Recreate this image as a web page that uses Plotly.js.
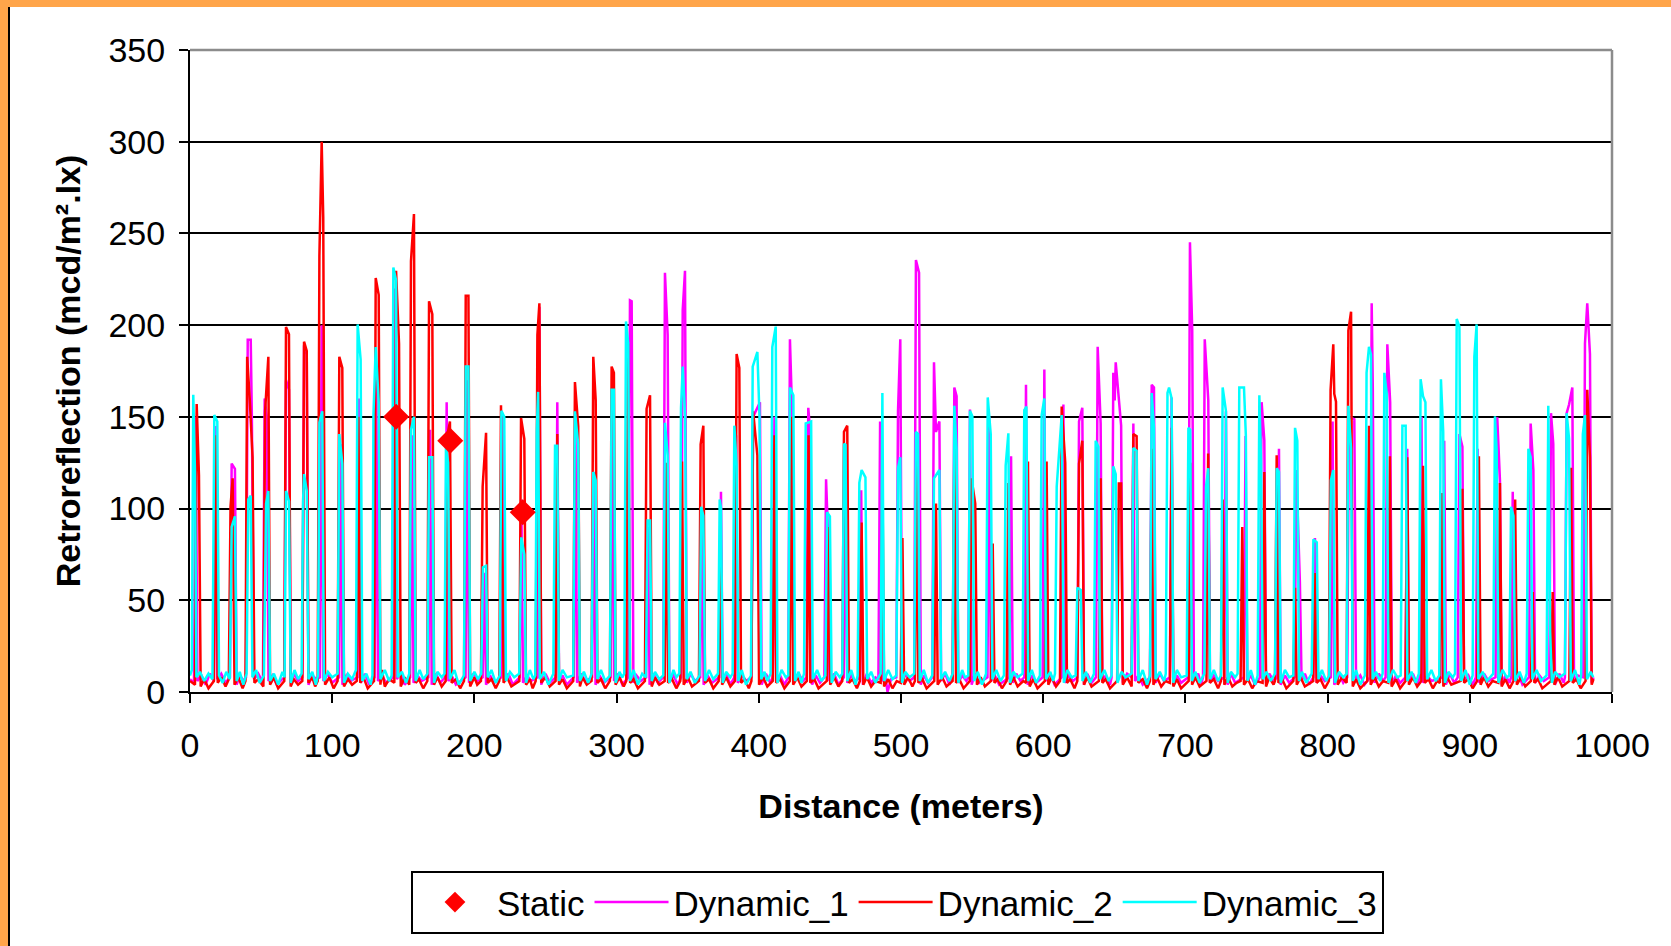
<!DOCTYPE html>
<html><head><meta charset="utf-8">
<script src="https://cdn.plot.ly/plotly-3.0.1.min.js"></script>
<style>
html,body{margin:0;padding:0;background:#fff;}
#wrap{position:relative;width:1671px;height:946px;overflow:hidden;background:#fff;}
#chart{position:absolute;left:0;top:0;width:1671px;height:946px;}
.fr{position:absolute;z-index:10;}
#ftop{left:0;top:0;width:1671px;height:7px;background:#FFA54A;}
#fleft{left:0;top:0;width:8px;height:946px;background:#FFA54A;}
#fline{left:8px;top:7px;width:2px;height:939px;background:#000;}
</style></head>
<body><div id="wrap"><div id="chart"></div><div class="fr" id="ftop"></div><div class="fr" id="fleft"></div><div class="fr" id="fline"></div></div>
<script>
const staticX = [145, 183, 234];
const staticY = [150, 137, 98];

const dyn1Points = [
[0,7],[2.8,5],[4,150],[5.2,6],[8,9],[11,4],[14,10],[16.8,6],
[18,145],[19.2,7],[22,10],[25,5],[28.1,8],
[29.3,124.5],[31.6,121.6],[32.8,4],[35,9],[38,6],[39.4,8],
[40.6,192],[42.7,192],[43.5,150],[45,7],[48,10],[51.3,5],
[52.5,160],[54,150],[55.2,6],[58,9],[61,4],[66.3,8],
[67.5,170],[69.6,165],[70.8,5],[73,10],[76,6],[79,8],
[80.2,189],[82.1,184],[83.3,4],[86,9],[89,7],[91.4,8],
[92.6,200],[93.8,6],[97,10],[100,5],[104.8,8],
[106,135],[107.2,4],[110,9],[113,6],[117.8,8],
[119,160],[120.2,5],[123,10],[126,4],[129.8,8],
[131,170],[132.2,6],[135,9],[138,5],[142.8,8],
[144,220],[145.5,7],[148,10],[151,4],[154.8,8],
[156,140],[157.2,5],[160,9],[163,6],[167.6,8],
[168.8,143],[170,4],[173,10],[176,5],[179.3,8],
[180.5,158],[181.7,6],[184,9],[187,4],[193.8,8],
[195,170],[196.2,5],[199,10],[202,6],[205.8,8],
[207,65],[208.2,4],[211,9],[214,5],[218.8,8],
[220,150],[221.2,6],[224,10],[227,4],[231.8,8],
[233,105],[234.2,5],[237,9],[240,6],[244.5,8],
[245.7,210],[247,4],[250,10],[253,5],[257.1,8],
[258.3,158],[259.5,6],[262,9],[265,4],[269.8,8],
[271,150],[272.2,5],[275,10],[278,6],[282.8,8],
[284,120],[285.2,4],[288,9],[291,5],[295.8,8],
[297,165],[298.2,6],[301,10],[304,4],[308.2,8],
[309.4,213.5],[310.6,213],[311.8,5],[314,9],[317,6],[320.8,8],
[322,90],[323.2,4],[326,10],[329,5],[332.8,8],
[334,228.6],[335.9,194.6],[337.1,6],[340,9],[343,4],[345.3,8],
[346.5,208.4],[348.1,229.6],[349.3,5],[352,10],[355,6],[358.8,8],
[360,100],[361.2,4],[364,9],[367,5],[372.2,8],
[373.4,109.2],[374.6,6],[377,10],[380,4],[382.8,8],
[384,140],[385.2,5],[388,9],[391,6],[394.8,8],
[396,150],[400.8,158],[402,4],[405,10],[408,5],[409.8,8],
[411,150],[412.2,6],[415,9],[418,4],[420.7,8],
[421.9,192.3],[423.5,150],[424.7,5],[428,10],[431,6],[433.6,8],
[434.8,154.9],[436.3,140],[437.5,4],[440,9],[443,5],[446.1,8],
[447.3,116],[448.5,90],[449.7,6],[453,10],[456,4],[459.8,8],
[461,130],[462.2,5],[465,9],[468,6],[470.8,8],
[472,110],[473.2,4],[476,10],[479,5],[482,8],[484.1,7],
[485.3,147.5],[486.5,6],[489,9],[490.5,0],[493,7],[496.7,8],
[497.9,153.3],[499.5,192.3],[500.7,5],[503,10],[506,6],[509.3,8],
[510.5,235.5],[512.7,228.6],[513.9,4],[516,9],[519,5],[522,8],
[523.2,179.7],[524.6,141.8],[527,147.5],[528.2,6],[531,10],[534,4],[536.3,8],
[537.5,166],[539.1,161.3],[540.3,5],[543,9],[546,6],[547.3,8],
[548.5,154],[549.7,4],[552,10],[555,5],[560.8,8],
[562,150],[563.2,6],[566,9],[569,4],[576.2,8],
[577.4,128.5],[578.6,5],[581,10],[584,6],[586.7,8],
[587.9,167.5],[589.1,4],[592,9],[595,5],[599.6,8],
[600.8,175.8],[602,6],[605,10],[608,4],[613,8],
[614.2,156.7],[615.4,5],[618,9],[621,6],[624,8],
[625.2,147.5],[627.5,154.9],[628.7,4],[631,10],[634,5],[637.1,8],
[638.3,188.2],[640.4,146.4],[641.6,6],[644,9],[647,4],[648.1,8],
[649.3,174],[650.3,159],[651,179.7],[654.8,145.2],[656,5],[659,10],[662.2,8],
[663.4,146.4],[664.6,6],[667,9],[670,4],[675.1,8],
[676.3,167.5],[677.9,166],[679.1,5],[682,10],[685,6],[689.1,8],
[690.3,160.6],[691.5,4],[694,9],[697,5],[702,8],
[703.2,245.2],[704.8,197],[706,6],[709,10],[711,4],[712.4,8],
[713.6,192.3],[716.1,159],[717.3,5],[720,9],[723,6],[727.3,8],
[728.5,153],[729.7,4],[732,10],[735,5],[741.1,8],
[742.3,139.5],[743.5,6],[746,9],[749,4],[752.4,8],
[753.6,158],[755.5,137.2],[756.7,5],[759,10],[762,6],[764.6,8],
[765.8,132.6],[767,4],[770,9],[773,5],[776.8,8],
[778,121],[780.5,60],[781.7,6],[784,10],[787,4],[789.9,8],
[791.1,83.9],[792.3,5],[795,9],[798,6],[802.3,8],
[803.5,147.5],[804.7,4],[808,10],[811,5],[813.8,8],
[815,150],[818.8,148.7],[820,6],[823,9],[826,4],[829.8,8],
[831,211.9],[831.8,165],[833,5],[836,10],[839,6],[840.8,8],
[842,189.6],[844,158],[845.2,4],[848,9],[851,5],[854.8,8],
[856,132.6],[857.2,6],[860,10],[863,4],[864.8,8],
[866,150],[867.2,5],[870,9],[873,6],[880.8,8],
[882,137],[883.2,4],[886,10],[889,5],[891.5,8],
[892.7,140.6],[894.8,133.7],[896,6],[899,9],[902,4],[904.3,8],
[905.5,132.6],[906.7,5],[910,10],[913,6],[918.1,8],
[919.3,149.8],[921.2,115.4],[922.4,4],[925,9],[928,5],[929,8],
[930.2,109.2],[931.4,6],[934,10],[937,4],[941.6,8],
[942.8,146.4],[944.7,121],[945.9,5],[949,9],[952,6],[955.9,8],
[957.1,152],[958.7,135.3],[959.9,4],[963,10],[966,5],[966.9,8],
[968.1,152],[969.8,156.7],[972.1,166],[973.3,6],[976,9],[979.8,8],
[981,190],[982.6,211.9],[984.5,184.3],[985.7,5],[987,8]
];

const dyn2Points = [
[0,6],[3.5,4],[4.7,157],[5.5,131],[6.3,118],[7.5,3],[10,7],[13,2],[16.8,6],
[18,140],[19.5,5],[22,8],[25,3],[27.3,7],
[28.5,101],[30,116.5],[31.3,4],[34,8],[37,2],[39,6],
[40.2,182.7],[42,160],[44,128],[45.3,5],[48,7],[51.6,3],
[52.8,153],[55.1,182.7],[56.3,4],[59,8],[62,2],[66.3,6],
[67.5,199],[69.6,195],[70.8,3],[73,7],[76,4],[79,6],
[80.2,191],[82.1,186],[83.3,5],[86,8],[88,3],[89.8,6],
[91,238],[92.6,300],[93.7,259],[95,4],[98,8],[101,2],[103.8,6],
[105,182.7],[107.1,176.7],[108.3,3],[111,7],[114,4],[117.3,6],
[118.5,150],[119.7,5],[122,8],[125,2],[129.4,6],
[130.6,225.7],[132.7,216.5],[133.9,4],[135,12],[137,3],[140,7],[143.7,5],
[144.9,229.6],[147,190],[148.2,3],[151,8],[154.2,4],
[155.4,234.9],[157.5,260.6],[158.7,5],[161,7],[164,2],[166.9,6],
[168.1,213],[170.4,206],[171.6,4],[174,8],[177,3],[179.8,6],
[181,140],[182.8,147.5],[184,5],[187,7],[190,2],[192.7,6],
[193.9,216],[195.8,216],[197,3],[200,8],[202,4],[204.6,6],
[205.8,112],[208.2,141.3],[209.4,5],[212,7],[215,2],[217.5,6],
[218.7,156.3],[220.5,5],[223,8],[226,3],[231.6,6],
[232.8,149.4],[235.1,138],[236.3,4],[239,7],[241,2],[243.1,6],
[244.3,194.6],[245.7,211.9],[247,5],[250,8],[253,3],[257.1,6],
[258.3,140.6],[259.5,4],[262,7],[265,2],[269.5,6],
[270.7,169],[273,145],[274.2,3],[276,8],[279,4],[282.4,6],
[283.6,182.7],[285.3,159],[286.5,5],[289,7],[292,2],[295.3,6],
[296.5,177.4],[298.1,174],[299.3,4],[302,8],[305,3],[306.8,6],
[308,190],[309.5,5],[312,7],[315,2],[319.9,6],
[321.1,154.4],[323.5,161.8],[324.7,3],[327,8],[330,4],[333.8,6],
[335,125],[336.2,5],[339,7],[342,2],[344.8,6],
[346,125.7],[347.2,4],[350,8],[353,3],[357.9,6],
[359.1,135],[361,145.2],[362.2,5],[365,7],[368,2],[371.8,6],
[373,100],[374.2,4],[377,8],[380,3],[383.2,6],
[384.4,184.3],[386.3,176.7],[387.5,5],[390,7],[393,2],[394.8,6],
[396,153],[399,129],[400.2,4],[403,8],[406,3],[409.8,6],
[411,140],[412.2,5],[415,7],[418,2],[421.8,6],
[423,150],[424.2,4],[427,8],[430,3],[433.8,6],
[435,140],[436.2,5],[439,7],[442,2],[447.8,6],
[449,90],[450.2,4],[453,8],[456,3],[458.7,6],
[459.9,141.8],[462.2,145.2],[463.4,5],[466,7],[469,2],[471.1,6],
[472.3,92.4],[473.5,4],[476,8],[479,3],[482,6],[485.7,5],
[486.9,118.8],[488.1,3],[491,7],[494,2],[497,6],[499.8,5],
[501,84],[502.2,4],[505,8],[508,3],[509.8,6],
[511,130],[512.2,5],[515,7],[518,2],[523.4,6],
[524.6,102.7],[525.8,4],[529,8],[532,3],[536.3,6],
[537.5,132.6],[538.7,5],[541,7],[544,2],[548.4,6],
[549.6,116.5],[552.2,102.7],[553.4,4],[556,8],[559,3],[563.3,6],
[564.5,81],[565.7,5],[568,7],[571,2],[574.3,6],
[575.5,114],[576.7,4],[579,8],[582,3],[586,6],[588.1,5],
[589.3,125.7],[590.5,3],[593,7],[596,2],[601.2,6],
[602.4,125.7],[603.6,4],[606,8],[609,3],[611.8,6],
[613,155.6],[615.5,125],[616.7,5],[619,7],[622,2],[624,6],
[625.2,124.5],[627.5,137],[628.7,4],[631,8],[634,3],[639.2,6],
[640.4,116.5],[641.6,5],[644,7],[647,2],[652,6],
[653.2,113.7],[654.8,113.7],[656,4],[659,8],[662.2,3],
[663.4,140.6],[665.7,139.5],[666.9,5],[670,7],[673,2],[675.1,6],
[676.3,132.6],[677.5,4],[680,8],[683,3],[686,6],[689.1,5],
[690.3,144],[691.5,3],[694,7],[697,2],[702.3,6],
[703.5,125],[704.7,4],[707,8],[710,3],[714.8,6],
[716,130],[717.2,5],[720,7],[723,2],[725,6],
[726.2,105],[727.4,4],[730,8],[733,3],[736,5],[738.8,6],
[740,90],[741.2,4],[744,7],[747,2],[750,6],[754.3,5],
[755.5,120],[756.7,3],[759,8],[762,4],[763,6],
[764.2,129],[765.4,5],[768,7],[771,2],[775.9,6],
[777.1,56.8],[778.3,4],[781,8],[784,3],[789.9,6],
[791.1,64.8],[792.3,5],[795,7],[798,2],[800.9,6],
[802.1,164.8],[804,189.6],[804.7,162.5],[805.9,158.3],[807.1,4],[810,8],[813.4,5],
[814.6,197],[816.5,207.3],[817.7,3],[820,7],[823,2],[827.9,6],
[829.1,145.2],[830.3,4],[833,8],[836,3],[839,6],[842.6,5],
[843.8,128.5],[845,3],[848,7],[851,2],[854.8,6],
[856,128],[857.2,4],[860,8],[863,3],[865.9,6],
[867.1,123.4],[868.3,5],[871,7],[874,2],[877,6],[879,5],
[880.2,108.5],[881.4,3],[884,8],[887,4],[893.6,6],
[894.8,110.8],[896,5],[899,7],[902,2],[905.2,6],
[906.4,128.5],[907.6,4],[910,8],[913,3],[916,6],[920,5],
[921.2,114],[922.4,3],[925,7],[928,2],[930.7,6],
[931.9,105],[933.1,4],[936,8],[939,3],[943,6],
[944.2,54.5],[945.4,5],[948,7],[951,2],[957.1,6],
[958.3,54.5],[959.5,4],[962,8],[965,3],[970,6],
[971.2,122.3],[972.4,5],[975,7],[978,2],[981.4,6],
[982.6,164.8],[984.5,128],[985.7,4],[987,7]
];

const dyn3Points = [
[0,9],[1.3,12],[2.3,162],[3.5,120],[4.5,8],[7,11],[10,6],[13,10],[15.8,7],
[17.1,151],[19.2,147.5],[20.4,9],[23,5],[25.5,11],[28,7],
[29.3,90],[31.6,95.8],[32.8,6],[35,11],[37.5,4],[39.8,10],
[41,105],[42.7,107],[43.9,8],[46.5,12],[49,5],[52,9],
[53.5,102.7],[55.1,109.6],[56.3,6],[59,10],[62,4],[65,11],[66.5,8],
[67.5,109.6],[69.6,104],[70.8,5],[73.5,12],[76,7],[78.5,10],
[79.5,104],[80.2,118.8],[82.1,109.6],[83.3,7],[86,11],[88.5,4],[90,9],
[91,147],[93,153],[94.2,6],[97,11],[100,8],[103.8,10],
[105,140.6],[107.1,124.5],[108.3,5],[111,10],[114,7],[116.7,12],
[117.9,200.4],[120,181.3],[121.2,6],[124,10],[127,4],[128.3,9],
[129,151],[130.6,188],[132.7,158],[133.9,7],[137,12],[140,6],[141.8,9],
[143,231.4],[144.9,224.5],[146.1,8],[149,11],[152,5],[154.2,10],
[155.4,143],[157.5,150],[158.7,6],[161.5,12],[164,7],[167,10],
[168.1,128],[170.4,128],[171.6,5],[174,11],[177,8],[179,10],
[180,133.7],[181.5,125],[182.7,7],[186,12],[189,4],[192.7,9],
[193.9,177.4],[195.8,177.4],[197,6],[200,11],[202.5,7],[204.8,10],
[206,68],[208.2,68.7],[209.4,8],[212,12],[215,5],[217.8,9],
[219,153.3],[221,150],[222.2,6],[225,11],[228,8],[231.5,10],
[233,84.3],[235.1,75],[236.3,5],[239,12],[241.5,7],[242.8,9],
[243.8,141.8],[244.8,163.6],[246,7],[249,11],[252,4],[255.5,10],
[256.7,134.2],[258.3,134.2],[259.5,6],[262,12],[265,8],[269.5,9],
[270.7,153],[273,135],[274.2,6],[277,11],[280,5],[282.4,10],
[283.6,120],[285.3,115.4],[286.5,7],[289,12],[292,6],[295.3,9],
[296.5,164.8],[298.1,164.8],[299.3,5],[302,11],[304,8],[305.4,10],
[306.6,202],[308.2,190],[309.4,6],[312,12],[315,4],[318,10],[320.6,8],
[321.8,93.5],[323.5,93.5],[324.7,6],[327,11],[330,7],[332.8,9],
[334,146.8],[335.9,129],[337.1,5],[340,12],[342,8],[344.1,10],
[345.3,155],[346.5,177.4],[348.2,150],[349.4,7],[352,11],[355,5],[358.3,9],
[359.5,101],[361,96],[362.2,6],[365,12],[368,7],[371.3,10],
[372.5,105],[373.4,100.4],[374.6,5],[377,11],[380,8],[381.6,10],
[382.8,145.2],[384.4,123.4],[385.6,6],[388,12],[391,4],[394.5,9],
[395.7,177.4],[399,185.4],[400.5,150],[401.7,7],[404,11],[406,6],[408.3,10],
[409.5,188],[411.9,199.2],[413.1,5],[416,12],[419,8],[420.7,9],
[421.9,166],[424.3,161.8],[425.5,6],[428,11],[430,5],[431.8,10],
[433,146.4],[436.8,147.5],[438,7],[441,12],[444,6],[446.8,9],
[448,98],[450,95.8],[451.2,5],[454,11],[457,8],[458.7,10],
[459.9,135.4],[461,134.7],[462.2,6],[465,12],[468,4],[469.5,9],
[470.7,114],[472.3,121],[475,117],[476.2,7],[479,11],[482,5],[485.7,10],
[486.9,163],[488.1,6],[491,12],[494,7],[496.7,9],
[497.9,122],[499.5,128],[500.7,5],[503,11],[506,8],[509.3,10],
[510.5,141.8],[512,140.6],[513.2,6],[516,12],[519,5],[522,9],
[523.2,116.5],[527,121],[528.2,7],[531,11],[534,6],[536.3,10],
[537.5,156],[539.1,132.6],[540.3,5],[543,12],[545,8],[547.3,9],
[548.5,153.3],[550.2,150.3],[551.4,6],[554,11],[557,4],[559.8,10],
[561,160.6],[563.1,140.6],[564.3,7],[567,12],[570,6],[572.4,9],
[573.6,123.4],[575.5,141],[576.7,5],[579,11],[582,8],[585.5,10],
[586.7,153.7],[588.2,155.6],[589.4,6],[592,12],[595,5],[597.7,9],
[598.9,151],[600.8,160],[602,7],[605,11],[607,6],[608.3,10],
[609.5,112],[613,151],[614.5,5],[617,12],[620,8],[622.8,9],
[624,56.8],[626.4,55.6],[627.6,6],[630,11],[633,5],[635.7,10],
[636.9,137],[638.8,133.7],[640,7],[643,12],[646,6],[648.1,9],
[649.3,123],[651,118.8],[652.2,5],[655,11],[658,8],[662.2,10],
[663.4,133],[665.7,131.5],[666.9,6],[670,12],[673,4],[675.1,9],
[676.3,163],[677.9,144],[679.1,7],[682,11],[685,6],[686.2,10],
[687.4,163],[688.5,166],[690.3,160],[691.5,5],[694,12],[697,8],[700.9,9],
[702.1,144],[703.4,143],[704.6,6],[707,11],[710,5],[713.3,10],
[714.5,112],[716.1,122],[717.3,7],[720,12],[723,6],[725,9],
[726.2,166],[728.5,153.3],[729.7,5],[732,11],[735,8],[736.7,10],
[737.9,166],[741.2,166],[742.5,140],[743.7,6],[746,12],[749,4],[750.8,9],
[752,161.8],[753.2,125.7],[754.4,7],[757,11],[760,6],[763,10],
[764.2,122],[765.8,120],[767,5],[770,12],[773,8],[775.9,9],
[777.1,144],[778.7,137],[779.9,6],[782,11],[785,5],[788.8,10],
[790,83.2],[792.4,81.6],[793.6,7],[796,12],[799,6],[801.1,9],
[802.3,115.4],[804,121],[805.2,5],[808,11],[811,8],[813.4,10],
[814.6,156],[816.5,132.6],[817.7,6],[820,12],[823,4],[826.2,9],
[827.4,174],[829.1,188.2],[830.5,184],[831.7,7],[834,11],[837,6],[838.7,10],
[839.9,174],[841.6,162.5],[842.8,5],[846,12],[849,8],[851.4,9],
[852.6,145.2],[854.9,145.2],[856.1,6],[859,11],[862,5],[864.2,10],
[865.4,170.5],[867.1,161.3],[868.8,158],[870,7],[873,12],[876,6],[878.5,9],
[879.7,170.5],[881.3,141.8],[882.5,5],[885,11],[888,8],[889.6,10],
[890.8,203.4],[892.7,199.2],[893.9,6],[897,12],[900,4],[902,9],
[903.2,182.7],[904.8,200.4],[906,7],[909,11],[912,6],[916.5,10],
[917.7,150.3],[918.9,131.5],[920.1,5],[923,12],[926,8],[927.8,9],
[929,101],[930.7,96],[931.9,6],[935,11],[938,5],[940,10],
[941.2,132.6],[942.8,128],[944,7],[947,12],[950,6],[954,9],
[955.2,156],[956.5,33],[957.7,5],[960,11],[963,8],[966.9,10],
[968.1,152],[969.8,138],[971,6],[974,12],[977,4],[978.3,9],
[979.5,140.6],[981,151],[982.4,7],[985,11],[986.8,8]
];

const xTicks = [0,100,200,300,400,500,600,700,800,900,1000];
const yTicks = [0,50,100,150,200,250,300,350];

const FONT = 'Liberation Sans, Arial, sans-serif';
const xs = p => p.map(v => v[0]);
const ys = p => p.map(v => v[1]);

const traces = [
  {name:'Dynamic_1', x: xs(dyn1Points), y: ys(dyn1Points), type:'scatter', mode:'lines',
   line:{color:'#FF00FF', width:2.5}, legendrank:2},
  {name:'Dynamic_2', x: xs(dyn2Points), y: ys(dyn2Points), type:'scatter', mode:'lines',
   line:{color:'#FF0000', width:2.5}, legendrank:3},
  {name:'Dynamic_3', x: xs(dyn3Points), y: ys(dyn3Points), type:'scatter', mode:'lines',
   line:{color:'#00FFFF', width:2.5}, legendrank:4},
  {name:'Static', x: staticX, y: staticY, type:'scatter', mode:'markers',
   marker:{symbol:'diamond', color:'#FF0000', size:20}, legendrank:1}
];

const layout = {
  width:1671, height:946,
  margin:{l:190, r:59, t:50, b:250},
  paper_bgcolor:'#ffffff', plot_bgcolor:'#ffffff',
  font:{family:FONT, size:34, color:'#000'},
  showlegend:true,
  xaxis:{range:[0,1000], tickvals:xTicks, ticktext:xTicks.map(String),
    showgrid:false, zeroline:false, showline:true, linecolor:'#000', linewidth:2,
    ticks:'outside', ticklen:9, tickwidth:2, tickcolor:'#000', ticklabelstandoff:13,
    tickfont:{family:FONT, size:34, color:'#000'},
    title:{text:'<b>Distance (meters)</b>', font:{family:FONT, size:34, color:'#000'}, standoff:31}},
  yaxis:{range:[0,350], tickvals:yTicks, ticktext:yTicks.map(String),
    showgrid:true, gridcolor:'#000', gridwidth:2, zeroline:false,
    showline:true, linecolor:'#000', linewidth:2,
    ticks:'outside', ticklen:9, tickwidth:2, tickcolor:'#000', ticklabelstandoff:7,
    tickfont:{family:FONT, size:34, color:'#000'},
    title:{text:'<b>Retroreflection (mcd/m².lx)</b>', font:{family:FONT, size:34, color:'#000'}, standoff:18}},
  legend:{orientation:'h', x:0.1554, xanchor:'left', y:-0.2786, yanchor:'top',
    bordercolor:'#000', borderwidth:2, bgcolor:'#fff', itemwidth:74,
    font:{family:FONT, size:35, color:'#000'}},
  shapes:[
    {type:'line', xref:'paper', yref:'paper', x0:0, x1:1, y0:1, y1:1, line:{color:'#8c8c8c', width:2.5}, layer:'above'},
    {type:'line', xref:'paper', yref:'paper', x0:1, x1:1, y0:0, y1:1, line:{color:'#8c8c8c', width:2.5}, layer:'above'}
  ]
};

Plotly.newPlot('chart', traces, layout, {displayModeBar:false, staticPlot:true});
</script></body></html>
